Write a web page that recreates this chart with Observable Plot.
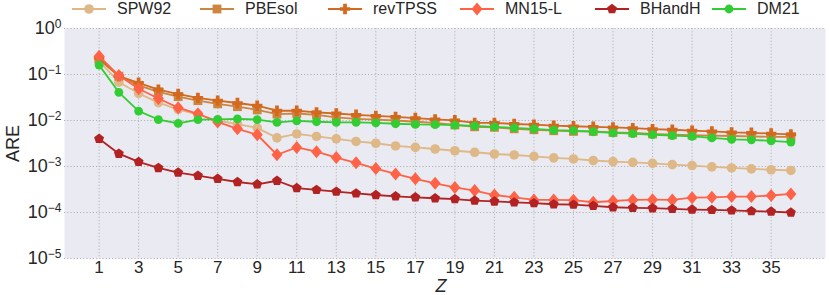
<!DOCTYPE html>
<html><head><meta charset="utf-8">
<script src="https://cdn.jsdelivr.net/npm/d3@7"></script>
<script src="https://cdn.jsdelivr.net/npm/@observablehq/plot@0.6"></script>
<style>
body{margin:0;background:#fff;font-family:"Liberation Sans",Arial,sans-serif;}
#wrap{width:830px;}
#legend{position:relative;height:18px;width:830px;}
.item{position:absolute;top:0;height:18px;display:flex;align-items:center;font-size:16px;color:#262626;white-space:nowrap;}
.item svg{margin-right:11px;}
</style></head><body>
<div id="wrap"><div id="legend"></div><div id="chart"></div></div>
<script>
const Z = [1,2,3,4,5,6,7,8,9,10,11,12,13,14,15,16,17,18,19,20,21,22,23,24,25,26,27,28,29,30,31,32,33,34,35,36];
const xTicks = [1,3,5,7,9,11,13,15,17,19,21,23,25,27,29,31,33,35];
const yTicks = [1e-5,1e-4,1e-3,1e-2,1e-1,1];
const seriesNames = ["SPW92","PBEsol","revTPSS","MN15-L","BHandH","DM21"];

const SPW92 = [0.195,0.068,0.039,0.0245,0.0174,0.0135,0.0100,0.0083,0.0069,0.0042,
  0.0051,0.0045,0.0040,0.0035,0.0032,0.0028,0.0026,0.0024,0.0022,0.00204,
  0.00187,0.00178,0.00166,0.00154,0.00146,0.00135,0.00128,0.00123,0.00117,0.00110,
  0.00105,0.00098,0.00093,0.00089,0.00085,0.00082];
const PBEsol = [0.21,0.092,0.058,0.042,0.033,0.027,0.023,0.020,0.017,0.0138,
  0.0142,0.0132,0.0117,0.0108,0.0104,0.0100,0.0094,0.0089,0.0080,0.0073,
  0.0071,0.0066,0.0063,0.0060,0.0058,0.0058,0.0055,0.0054,0.0051,0.0049,
  0.0048,0.0047,0.0046,0.0045,0.0044,0.0044];
const revTPSS = [0.23,0.092,0.066,0.047,0.0376,0.031,0.027,0.024,0.021,0.0163,
  0.0163,0.0150,0.0142,0.0133,0.0126,0.0120,0.0113,0.0106,0.0101,0.0089,
  0.0089,0.0084,0.0081,0.0077,0.0075,0.0073,0.0071,0.0068,0.0065,0.0063,
  0.0060,0.0058,0.0055,0.0054,0.0052,0.0050];
const MN15L = [0.25,0.095,0.049,0.030,0.019,0.014,0.0093,0.0066,0.0049,0.0018,
  0.0026,0.0021,0.00156,0.00120,0.00090,0.00069,0.00054,0.00043,0.00035,0.00030,
  0.00024,0.000214,0.000188,0.000188,0.000185,0.000167,0.000178,0.000188,0.00019,0.000188,
  0.00021,0.000214,0.000222,0.000222,0.000234,0.000254];
const BHandH = [0.0040,0.0019,0.00126,0.00093,0.00074,0.00063,0.00054,0.00046,0.00041,0.00049,
  0.00034,0.00031,0.000285,0.00026,0.00024,0.000225,0.000214,0.000204,0.000196,0.000182,
  0.000174,0.000166,0.000160,0.000151,0.000148,0.000140,0.000130,0.000126,0.000124,0.000120,
  0.000116,0.000114,0.000111,0.000107,0.000105,0.000100];
const DM21 = [0.16,0.041,0.016,0.0105,0.0087,0.0104,0.0106,0.0108,0.0105,0.0091,
  0.0098,0.0094,0.0091,0.0091,0.0089,0.0085,0.0082,0.0081,0.0079,0.0076,
  0.0073,0.0069,0.0066,0.0062,0.0060,0.0057,0.0054,0.0052,0.0049,0.0047,
  0.0045,0.0042,0.0039,0.0038,0.0036,0.0034];

const values = [SPW92, PBEsol, revTPSS, MN15L, BHandH, DM21];
const colors = ["#DEB887","#CD853F","#D2691E","#FF6347","#B22222","#32CD32"];

// custom marker shapes (styling)
const R = s => Math.sqrt(s/Math.PI);
const symbols = {
  circle: {draw(c,s){const r=R(s); c.moveTo(r,0); c.arc(0,0,r,0,2*Math.PI);}},
  square: {draw(c,s){const r=R(s)*0.85; c.rect(-r,-r,2*r,2*r);}},
  plusP: {draw(c,s){const r=R(s), t=r*0.36;
    c.moveTo(-t,-r);c.lineTo(t,-r);c.lineTo(t,-t);c.lineTo(r,-t);c.lineTo(r,t);c.lineTo(t,t);
    c.lineTo(t,r);c.lineTo(-t,r);c.lineTo(-t,t);c.lineTo(-r,t);c.lineTo(-r,-t);c.lineTo(-t,-t);c.closePath();}},
  diamond: {draw(c,s){const r=R(s); c.moveTo(0,-r);c.lineTo(r*0.85,0);c.lineTo(0,r);c.lineTo(-r*0.85,0);c.closePath();}},
  pentagon: {draw(c,s){const r=R(s); for(let i=0;i<5;i++){const a=-Math.PI/2+i*2*Math.PI/5; const x=r*Math.cos(a), y=r*Math.sin(a); if(i) c.lineTo(x,y); else c.moveTo(x,y);} c.closePath();}}
};
const markers = [symbols.circle, symbols.square, symbols.plusP, symbols.diamond, symbols.pentagon, symbols.circle];
const radii = [4.8, 5.2, 5.2, 6.5, 5.2, 4.4];

const seriesMarks = [];
seriesNames.forEach((name, i) => {
  const data = Z.map((z, j) => ({Z: z, v: values[i][j]}));
  seriesMarks.push(Plot.line(data, {x: "Z", y: "v", stroke: colors[i], strokeWidth: 1.8}));
  seriesMarks.push(Plot.dot(data, {x: "Z", y: "v", symbol: markers[i], r: radii[i], fill: colors[i], stroke: "none"}));
});

const chart = Plot.plot({
  width: 830, height: 277,
  marginTop: 10, marginBottom: 37, marginLeft: 64, marginRight: 5,
  style: {fontFamily: '"Liberation Sans", Arial, sans-serif', fontSize: "17px", color: "#262626", background: "#fff"},
  x: {domain: [-0.75, 37.75], ticks: xTicks, tickSize: 0, tickPadding: 2, label: "Z", labelArrow: "none", labelAnchor: "center", labelOffset: 33},
  y: {type: "log", domain: [1e-5, 1], ticks: yTicks, tickSize: 0, tickPadding: 3, label: "ARE", labelArrow: "none", labelAnchor: "center", labelOffset: 58,
      tickFormat: d => "10|" + Math.round(Math.log10(d)).toString().replace("-", "\u2212")},
  marks: [
    Plot.frame({fill: "#EAEAF2", stroke: null}),
    Plot.ruleX(xTicks, {stroke: "#b4b4b4", strokeWidth: 1, strokeDasharray: "1.2,2"}),
    Plot.ruleY(yTicks, {stroke: "#b4b4b4", strokeWidth: 1, strokeDasharray: "1.2,2"}),
    ...seriesMarks
  ]
});
document.getElementById("chart").appendChild(chart);

// superscript exponents on the log axis
chart.querySelectorAll('g[aria-label="y-axis tick label"] text').forEach(t => {
  const parts = t.textContent.split("|");
  if (parts.length !== 2) return;
  t.textContent = "";
  const ns = "http://www.w3.org/2000/svg";
  const b = document.createElementNS(ns, "tspan"); b.textContent = parts[0];
  const e = document.createElementNS(ns, "tspan"); e.textContent = parts[1];
  e.setAttribute("dy", "-0.55em"); e.setAttribute("font-size", "12px");
  t.appendChild(b); t.appendChild(e);
  t.setAttribute("font-size", "18px");
});
const cleanLabel = t => { t.textContent = t.textContent.replace(/[\u2191\u2193\u2190\u2192]/g, "").trim(); };
chart.querySelectorAll('g[aria-label="x-axis label"] text').forEach(t => { cleanLabel(t); t.setAttribute("font-style", "italic"); t.setAttribute("font-size", "18px"); t.setAttribute("dx", "-4"); });
chart.querySelectorAll('g[aria-label="y-axis label"] text').forEach(t => { cleanLabel(t); t.setAttribute("font-size", "18px"); });

// legend
const legendX = [72, 200, 328, 460, 595, 712];
const leg = document.getElementById("legend");
seriesNames.forEach((name, i) => {
  const div = document.createElement("div");
  div.className = "item";
  div.style.left = legendX[i] + "px";
  const ns = "http://www.w3.org/2000/svg";
  const s = document.createElementNS(ns, "svg");
  s.setAttribute("width", 34); s.setAttribute("height", 18);
  const l = document.createElementNS(ns, "line");
  l.setAttribute("x1", 0); l.setAttribute("x2", 34); l.setAttribute("y1", 9); l.setAttribute("y2", 9);
  l.setAttribute("stroke", colors[i]); l.setAttribute("stroke-width", 2);
  const p = document.createElementNS(ns, "path");
  p.setAttribute("d", d3.symbol(markers[i], Math.PI * radii[i] * radii[i])());
  p.setAttribute("transform", "translate(17,9)");
  p.setAttribute("fill", colors[i]);
  s.appendChild(l); s.appendChild(p);
  const span = document.createElement("span"); span.textContent = name;
  div.appendChild(s); div.appendChild(span);
  leg.appendChild(div);
});
</script>
</body></html>
